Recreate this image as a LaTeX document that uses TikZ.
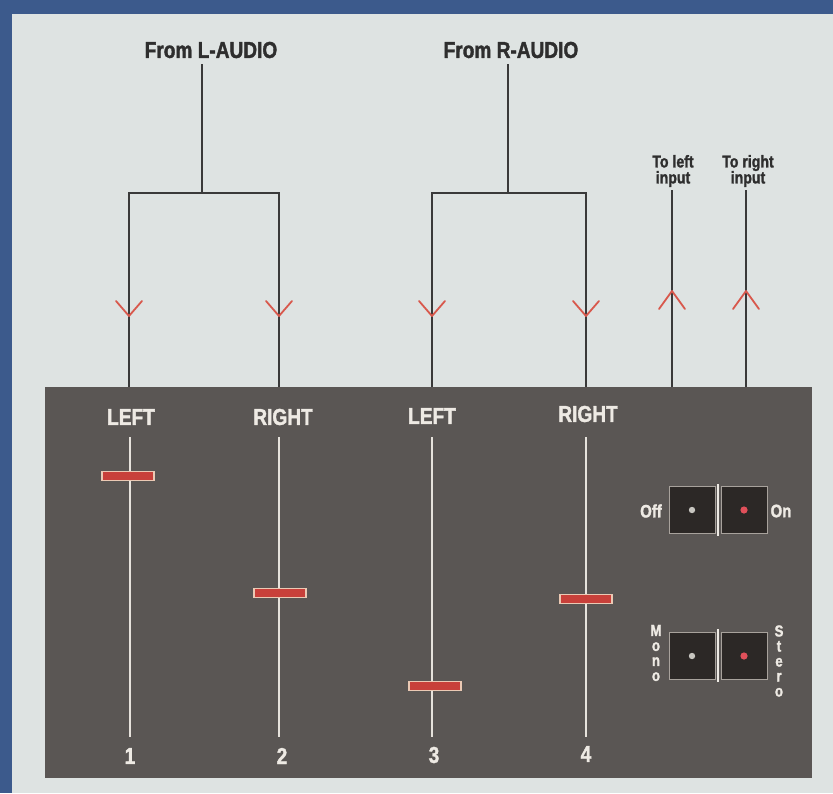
\documentclass[tikz,border=0pt]{standalone}
\usepackage{fontspec}
\setmainfont{Liberation Sans}[FakeStretch=0.83, BoldFeatures={FakeBold=1.6}]
\definecolor{bluebrd}{HTML}{3C5A8C}
\definecolor{paper}{HTML}{DEE3E2}
\definecolor{panel}{HTML}{5A5654}
\definecolor{wirecol}{HTML}{3A3A3A}
\definecolor{chevred}{HTML}{D8584C}
\definecolor{trackcol}{HTML}{E6E2DC}
\definecolor{knobred}{HTML}{C8403A}
\definecolor{knobedge}{HTML}{EBC9B4}
\definecolor{txtdark}{HTML}{2E2E2E}
\definecolor{txtlight}{HTML}{EEEAE4}
\definecolor{swfill}{HTML}{2C2826}
\definecolor{swedge}{HTML}{A8A29C}
\definecolor{dotgray}{HTML}{C8C6C0}
\definecolor{dotred}{HTML}{E0505A}
\begin{document}
\begin{tikzpicture}[x=1pt,y=-1pt,
  wire/.style={line width=2pt, draw=wirecol},
  chev/.style={line width=1.8pt, draw=chevred, line cap=round, line join=round},
  track/.style={line width=1.8pt, draw=trackcol},
  knob/.style={fill=knobred, draw=knobedge, line width=1.3pt, minimum width=52pt, minimum height=9pt, inner sep=0pt},
  toplbl/.style={font=\bfseries\fontsize{23}{23}\selectfont, text=txtdark, inner sep=0pt},
  smalllbl/.style={font=\bfseries\fontsize{17}{16}\selectfont, text=txtdark, align=center, inner sep=0pt},
  chlbl/.style={font=\bfseries\fontsize{23}{23}\selectfont, text=txtlight, inner sep=0pt},
  numlbl/.style={font=\bfseries\fontsize{23}{23}\selectfont, text=txtlight, inner sep=0pt},
  swlbl/.style={font=\bfseries\fontsize{18}{14.5}\selectfont, text=txtlight, inner sep=0pt, align=center},
  vlbl/.style={font=\bfseries\fontsize{16}{15}\selectfont, text=txtlight, inner sep=0pt, align=center},
  swbox/.style={fill=swfill, draw=swedge, line width=1pt, minimum width=46pt, minimum height=47pt, inner sep=0pt},
  divider/.style={line width=2.5pt, draw=txtlight}
]
\useasboundingbox (0,0) rectangle (833,793);
% frame and background
\fill[bluebrd] (0,0) rectangle (833,793);
\fill[paper] (12,14) rectangle (833,793);
\fill[panel] (45,387) rectangle (812,778);

% ---------- top labels ----------
\node[toplbl] (fromL) at (211,50) {From L-AUDIO};
\node[toplbl] (fromR) at (511,50) {From R-AUDIO};
\node[smalllbl] (toL) at (673,171) {To left\\input};
\node[smalllbl] (toR) at (748,171) {To right\\input};

% ---------- wiring coordinates ----------
\coordinate (aL) at (202,64);
\coordinate (jL) at (202,193);
\coordinate (c1) at (129,387);
\coordinate (c2) at (279,387);
\coordinate (aR) at (508,64);
\coordinate (jR) at (508,193);
\coordinate (c3) at (432,387);
\coordinate (c4) at (586,387);
\coordinate (oL) at (672,387);
\coordinate (oR) at (746,387);
\coordinate (tL) at (672,190);
\coordinate (tR) at (746,190);

\draw[wire] (aL) -- (jL);
\draw[wire] (jL) -| (c1);
\draw[wire] (jL) -| (c2);
\draw[wire] (aR) -- (jR);
\draw[wire] (jR) -| (c3);
\draw[wire] (jR) -| (c4);
\draw[wire] (oL) -- (tL);
\draw[wire] (oR) -- (tR);

% ---------- red chevrons ----------
\foreach \x in {129,279,432,586}{
  \draw[chev] (\x-13,301) -- (\x,316) -- (\x+13,301);
}
\foreach \x in {672,746}{
  \draw[chev] (\x-13,309) -- (\x,291) -- (\x+13,309);
}

% ---------- channel labels ----------
\node[chlbl] (lbl1) at (131,417) {LEFT};
\node[chlbl] (lbl2) at (283,417) {RIGHT};
\node[chlbl] (lbl3) at (432,416) {LEFT};
\node[chlbl] (lbl4) at (588,414) {RIGHT};

% ---------- numbers ----------
\node[numlbl] (n1) at (130,756) {1};
\node[numlbl] (n2) at (282,756) {2};
\node[numlbl] (n3) at (434,755) {3};
\node[numlbl] (n4) at (586,754) {4};

% ---------- tracks ----------
\coordinate (t1a) at (130,437); \coordinate (t1b) at (130,737);
\coordinate (t2a) at (279,437); \coordinate (t2b) at (279,737);
\coordinate (t3a) at (432,437); \coordinate (t3b) at (432,737);
\coordinate (t4a) at (586,437); \coordinate (t4b) at (586,737);
\draw[track] (t1a) -- (t1b);
\draw[track] (t2a) -- (t2b);
\draw[track] (t3a) -- (t3b);
\draw[track] (t4a) -- (t4b);

% ---------- knobs ----------
\node[knob] (k1) at (128,476) {};
\node[knob] (k2) at (280,593) {};
\node[knob] (k3) at (435,686) {};
\node[knob] (k4) at (586,599) {};

% ---------- switches ----------
\node[swbox] (offbox) at (692,510) {};
\node[swbox] (onbox) at (744,510) {};
\draw[divider] (718,484) -- (718,536);
\fill[dotgray] (offbox.center) circle (3.2pt);
\fill[dotred] (onbox.center) circle (3.6pt);
\node[swlbl] (off) at (651,511) {Off};
\node[swlbl] (on) at (781,511) {On};

\node[swbox] (monobox) at (692,656) {};
\node[swbox] (sterbox) at (744,656) {};
\draw[divider] (718,629) -- (718,682);
\fill[dotgray] (monobox.center) circle (3.2pt);
\fill[dotred] (sterbox.center) circle (3.6pt);
\node[vlbl] (mono) at (656,653) {M\\o\\n\\o};
\node[vlbl] (stero) at (779,661) {S\\t\\e\\r\\o};
\end{tikzpicture}
\end{document}
